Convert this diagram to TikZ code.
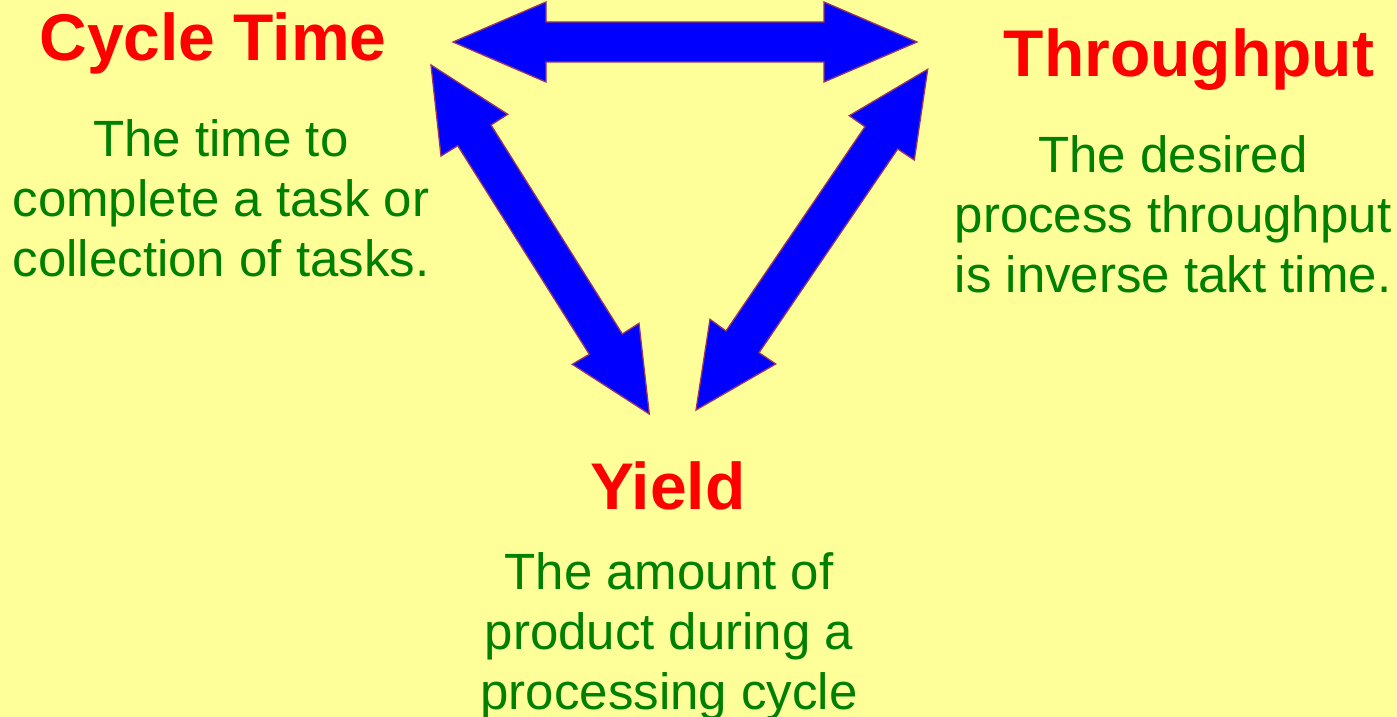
\documentclass[tikz,border=0pt]{standalone}
\usepackage{fontspec}
\setmainfont{Liberation Sans}
\definecolor{bg}{HTML}{FFFF99}
\definecolor{arrowfill}{HTML}{0000FF}
\definecolor{arrowline}{HTML}{993366}
\definecolor{titlered}{HTML}{FF0000}
\definecolor{descgreen}{HTML}{008000}
\begin{document}
\begin{tikzpicture}[x=1pt,y=-1pt,
  bigarrow/.style={fill=arrowfill,draw=arrowline,line width=1.3pt,line join=miter},
  title/.style={text=titlered,font=\bfseries\fontsize{66}{76}\selectfont,inner sep=0pt,anchor=base},
  desc/.style={text=descgreen,font=\fontsize{51}{60}\selectfont,align=center,inner sep=0pt,anchor=north}]
\useasboundingbox[fill=bg] (0,0) rectangle (1397,717);
% horizontal double arrow
\draw[bigarrow] (453,42) -- (546,2) -- (546,22) -- (824,22) -- (824,2) -- (917,42)
  -- (824,82) -- (824,62) -- (546,62) -- (546,82) -- cycle;
% left diagonal double arrow
\draw[bigarrow] (431,65) -- (507.7,114.3) -- (491,125) -- (622.3,334) -- (639,323.3)
  -- (649.3,414) -- (572.3,364.3) -- (589.3,354.3) -- (457.7,145.7) -- (441,156) -- cycle;
% right diagonal double arrow
\draw[bigarrow] (927.7,69.3) -- (914.3,160) -- (897.7,149) -- (759,352.7) -- (775.7,364)
  -- (696,410) -- (710,319.3) -- (726,331) -- (865,126.7) -- (849.3,115.7) -- cycle;
% titles
\node[title] (ct) at (213,61) {Cycle Time};
\node[title] (tp) at (1189,77) {Throughput};
\node[title] (yd) at (668,509) {Yield};
% descriptions
\node[desc] (ctd) at (221,156.7-40) {\rule{0pt}{40pt}The time to\\complete a task or\\collection of tasks.};
\node[desc] (tpd) at (1173,172.3-40) {\rule{0pt}{40pt}The desired\\process throughput\\is inverse takt time.};
\node[desc] (ydd) at (669,589-40) {\rule{0pt}{40pt}The amount of\\product during a\\processing cycle};
\end{tikzpicture}
\end{document}
